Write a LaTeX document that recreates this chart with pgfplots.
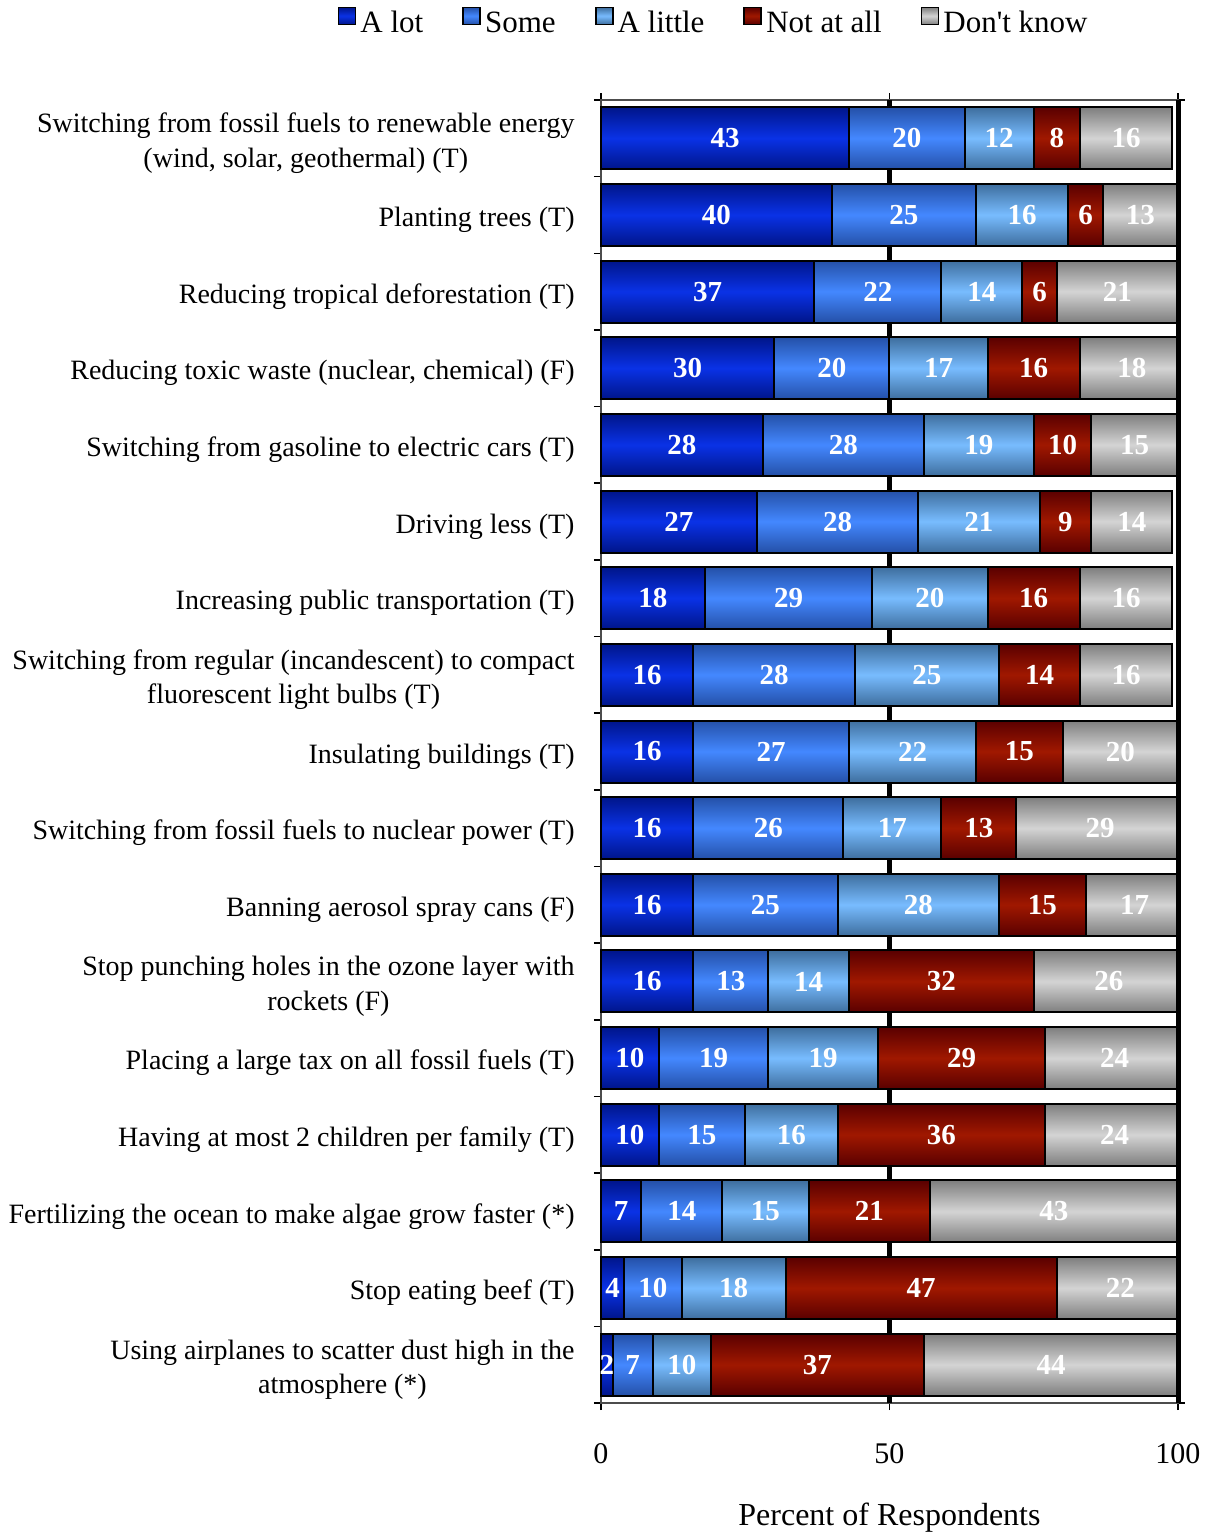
\documentclass[border=0pt]{standalone}
\usepackage{fontspec}
\setmainfont{Liberation Serif}
\usepackage{pgfplots}
\pgfplotsset{compat=1.18}
\usepackage{pgfplotstable}
\usetikzlibrary{calc}

\definecolor{alotE}{HTML}{00158A}
\definecolor{alotM}{HTML}{0A32E6}
\definecolor{someE}{HTML}{2450A8}
\definecolor{someM}{HTML}{4488FF}
\definecolor{littleE}{HTML}{3E6E9E}
\definecolor{littleM}{HTML}{78BCFF}
\definecolor{notE}{HTML}{5A0000}
\definecolor{notM}{HTML}{A01800}
\definecolor{dkE}{HTML}{7E7E7E}
\definecolor{dkM}{HTML}{D4D4D4}

% one vertical shading per series, with one edge-middle-edge band per bar row
\def\mkshade#1#2#3{%
  \gdef\spec{color(0bp)=(#2)}%
  \foreach \k in {0,...,16}{%
    \pgfmathsetmacro\sa{25.001+2.97459*\k}%
    \pgfmathsetmacro\sb{\sa+1.20308}%
    \pgfmathsetmacro\sc{\sa+2.40616}%
    \xdef\spec{\spec; color(\sa bp)=(#2); color(\sb bp)=(#3); color(\sc bp)=(#2)}%
  }%
  \xdef\spec{\spec; color(100bp)=(#2)}%
  \edef\temp{\noexpand\pgfdeclareverticalshading{#1}{100bp}{\spec}}\temp
}
\mkshade{alotS}{alotE}{alotM}
\mkshade{someS}{someE}{someM}
\mkshade{littleS}{littleE}{littleM}
\mkshade{notS}{notE}{notM}
\mkshade{dkS}{dkE}{dkM}

\pgfplotstableread{
y a b c d e
0 43 20 12 8 16
1 40 25 16 6 13
2 37 22 14 6 21
3 30 20 17 16 18
4 28 28 19 10 15
5 27 28 21 9 14
6 18 29 20 16 16
7 16 28 25 14 16
8 16 27 22 15 20
9 16 26 17 13 29
10 16 25 28 15 17
11 16 13 14 32 26
12 10 19 19 29 24
13 10 15 16 36 24
14 7 14 15 21 43
15 4 10 18 47 22
16 2 7 10 37 44
}\data

\begin{document}
\begin{tikzpicture}
\begin{axis}[name=ax, scale only axis, width=288.5pt, height=651.5pt,
  clip=false,
  xbar stacked, bar width=31pt,
  xmin=0, xmax=100, ymin=-0.5, ymax=16.5, y dir=reverse,
  ytick={0,...,16},
  yticklabels={
    {Switching from fossil fuels to renewable energy\\(wind, solar, geothermal) (T)},
    {Planting trees (T)},
    {Reducing tropical deforestation (T)},
    {Reducing toxic waste (nuclear, chemical) (F)},
    {Switching from gasoline to electric cars (T)},
    {Driving less (T)},
    {Increasing public transportation (T)},
    {Switching from regular (incandescent) to compact\\fluorescent light bulbs (T)},
    {Insulating buildings (T)},
    {Switching from fossil fuels to nuclear power (T)},
    {Banning aerosol spray cans (F)},
    {Stop punching holes in the ozone layer with\\rockets (F)},
    {Placing a large tax on all fossil fuels (T)},
    {Having at most 2 children per family (T)},
    {Fertilizing the ocean to make algae grow faster (*)},
    {Stop eating beef (T)},
    {Using airplanes to scatter dust high in the\\atmosphere (*)}},
  xtick={0,50,100}, minor xtick={0,50,100}, minor ytick={-0.5,0.5,...,16.5},
  major tick length=0pt, minor tick length=3.5pt, tick align=outside,
  tick style={black, line width=0.8pt},
  extra x ticks={50}, extra x tick labels={},
  extra x tick style={grid=major, major grid style={black, line width=2.6pt}},
  axis line style={draw=black!70, line width=0.8pt},
  /pgf/number format/assume math mode=true,
  yticklabel style={align=center, font=\fontsize{14}{17.2}\selectfont, inner sep=0pt, xshift=-13pt, yshift=-2.5pt},
  xticklabel style={font=\fontsize{15}{15}\selectfont, inner sep=0pt, yshift=-20pt},
  xlabel={Percent of Respondents},
  xlabel style={at={(axis description cs:0.5,0)}, anchor=north, yshift=-50pt, inner sep=0pt, font=\fontsize{16}{16}\selectfont},
  point meta=explicit,
  nodes near coords={\pgfmathprintnumber{\pgfplotspointmeta}},
  every node near coord/.append style={text=white, font=\bfseries\fontsize{14.5}{14.5}\selectfont, anchor=center},
  legend columns=5,
  legend style={draw=none, fill=none, at={(0.197,1.059)}, anchor=center,
    font=\fontsize{15.5}{15.5}\selectfont,
    /tikz/every even column/.append style={column sep=17.5pt}},
  legend cell align=left,
  legend image code/.code={\draw[#1, line width=0.9pt] (0pt,-0.5pt) rectangle (8.5pt,8pt);},
]
\addlegendimage{draw=black, top color=alotE, bottom color=alotE, middle color=alotM}
\addlegendimage{draw=black, top color=someE, bottom color=someE, middle color=someM}
\addlegendimage{draw=black, top color=littleE, bottom color=littleE, middle color=littleM}
\addlegendimage{draw=black, top color=notE, bottom color=notE, middle color=notM}
\addlegendimage{draw=black, top color=dkE, bottom color=dkE, middle color=dkM}
\addplot[draw=black, line width=1pt, shade, shading=alotS] table[y=y, x=a, meta=a] {\data};
\addplot[draw=black, line width=1pt, shade, shading=someS] table[y=y, x=b, meta=b] {\data};
\addplot[draw=black, line width=1pt, shade, shading=littleS] table[y=y, x=c, meta=c] {\data};
\addplot[draw=black, line width=1pt, shade, shading=notS] table[y=y, x=d, meta=d] {\data};
\addplot[draw=black, line width=1pt, shade, shading=dkS] table[y=y, x=e, meta=e] {\data};
\legend{A lot, Some, A little, Not at all, Don\textquotesingle t know}
\end{axis}
% right frame of the plot area (drawn over the ends of the bars, as in the original)
\fill[white] ($(ax.north east)+(1.2pt,-0.6pt)$) rectangle ($(ax.south east)+(8pt,0.6pt)$);
\draw[black, line width=2.4pt] ($(ax.north east)+(0.2pt,0)$) -- ($(ax.south east)+(0.2pt,0)$);
\pgfresetboundingbox
\path[use as bounding box] ($(ax.south west)+(-300.5pt,-65pt)$) rectangle ($(ax.north east)+(16pt,50pt)$);
\end{tikzpicture}
\end{document}
